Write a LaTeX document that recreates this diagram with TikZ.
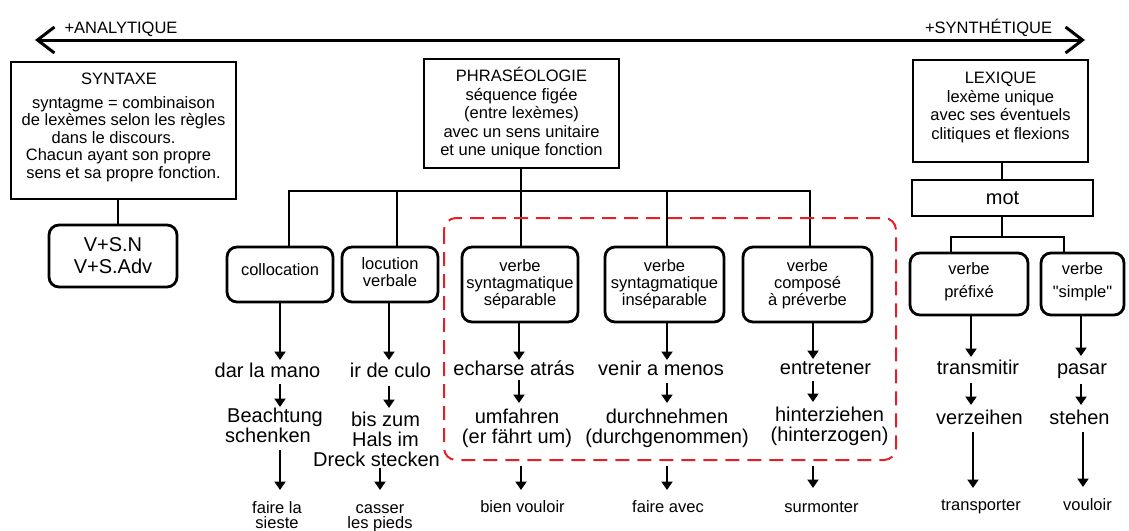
\documentclass[tikz,border=0pt]{standalone}
\usepackage{fontspec}
\setmainfont{Liberation Sans}
\newfontfamily\qfont{Liberation Sans}[Ligatures=TeXOff]
\usetikzlibrary{arrows.meta,calc}
\newcommand{\dropby}[1]{\rule[-#1]{0pt}{#1}}
\definecolor{dashred}{RGB}{230,30,40}
\begin{document}
\begin{tikzpicture}[x=1pt,y=-1pt,
  box/.style={draw, line width=2.8pt, inner sep=0pt, align=center, font=\fontsize{16.5}{17.5}\selectfont},
  rbox/.style={box, rounded corners=10pt},
  conn/.style={line width=2.8pt},
  arr/.style={line width=2.5pt, -{Triangle[length=8.5pt,width=11pt]}},
  big/.style={font=\fontsize{20}{20}\selectfont, align=center, inner sep=0pt, anchor=base},
  small/.style={font=\fontsize{16.5}{15}\selectfont, align=center, inner sep=0pt, anchor=base},
  redbox/.style={draw=dashred, line width=2pt, dash pattern=on 14pt off 8pt, rounded corners=12pt},
  toparr/.style={line width=3pt, {Straight Barb[length=17pt,width=26pt]}-{Straight Barb[length=17pt,width=26pt]}},
]
\useasboundingbox (0,0) rectangle (1129,530);

% top axis
\node[small] (lab1) at (121,33) {+ANALYTIQUE};
\node[small] (lab2) at (988.5,33) {+SYNTHÉTIQUE};
\coordinate (aL) at (35,40);
\coordinate (aR) at (1085,40);
\draw[toparr] (aL) -- (aR);

% syntaxe
\node[box, minimum width=225pt, minimum height=137pt] (syn) at (123.5,130.5)
 {SYNTAXE\kern9pt\\[6.75pt]syntagme = combinaison\\de lexèmes selon les règles\\dans le discours.\kern20pt\\Chacun ayant son propre\kern10pt\\sens et sa propre fonction.\dropby{10pt}};
\node[rbox, font=\fontsize{20}{22}\selectfont, minimum width=128pt, minimum height=62pt] (vs) at (113,256) {V+S.N\\V+S.Adv};
\coordinate (sv) at (118,0);
\draw[conn] (syn.south -| sv) -- (vs.north -| sv);

% phraseologie
\node[box, font=\fontsize{16.5}{18.5}\selectfont, minimum width=195pt, minimum height=109pt] (phr) at (521.5,113.5)
 {PHRASÉOLOGIE\\séquence figée\\(entre lexèmes)\\avec un sens unitaire\\et une unique fonction};

\node[rbox, minimum width=106pt, minimum height=55pt] (col) at (280,274.5) {collocation\dropby{9pt}};
\node[rbox, font=\fontsize{16.5}{17}\selectfont, minimum width=96pt, minimum height=55pt] (loc) at (390,274.5) {locution\\verbale\dropby{5pt}};
\node[rbox, font=\fontsize{16.5}{17}\selectfont, minimum width=116pt, minimum height=75pt] (sep) at (520,284.5) {verbe\\syntagmatique\\séparable};
\node[rbox, font=\fontsize{16.5}{17}\selectfont, minimum width=119pt, minimum height=75pt] (ins) at (664.5,284.5) {verbe\\syntagmatique\\inséparable};
\node[rbox, font=\fontsize{16.5}{17}\selectfont, minimum width=129pt, minimum height=75pt] (cmp) at (807.5,284.5) {verbe\\composé\\à préverbe};

\coordinate (j) at (521,191);
\coordinate (xcol) at (289,0);
\coordinate (xloc) at (397,0);
\coordinate (xsep) at (521,0);
\coordinate (xins) at (667,0);
\coordinate (xcmp) at (810,0);
\draw[conn] (col.north -| xcol) |- (j) -| (cmp.north -| xcmp);
\draw[conn] (phr.south -| xsep) -- (sep.north -| xsep);
\draw[conn] (loc.north -| xloc) -- (j -| xloc);
\draw[conn] (ins.north -| xins) -- (j -| xins);

% lexique
\node[box, font=\fontsize{16.5}{18.5}\selectfont, minimum width=175pt, minimum height=102pt] (lex) at (1000.5,111)
 {LEXIQUE\\lexème unique\\avec ses éventuels\\clitiques et flexions\dropby{11pt}};
\node[box, font=\fontsize{20}{22}\selectfont, minimum width=181pt, minimum height=36pt] (mot) at (1002.5,198) {mot};
\coordinate (xlm) at (1002,0);
\draw[conn] (lex.south -| xlm) -- (mot.north -| xlm);
\node[rbox, minimum width=118pt, minimum height=62pt] (pre) at (969,284) {verbe\\[5.5pt]préfixé\dropby{7pt}};
\node[rbox, minimum width=83pt, minimum height=62pt] (sim) at (1082.5,284) {verbe\\[5.5pt]{\qfont"}simple{\qfont"}\dropby{7pt}};
\coordinate (k) at (1002,237);
\coordinate (xpre) at (951,0);
\coordinate (xsim) at (1064,0);
\draw[conn] (mot.south -| xlm) -- (k);
\draw[conn] (pre.north -| xpre) |- (k) -| (sim.north -| xsim);

% red dashed group
\draw[redbox] (444,218) rectangle (896,460);

% examples (base = last line baseline)
\node[big] (c1) at (267.5,377) {dar la mano};
\node[big] (c2) at (268,442) {\kern14pt Beachtung\\schenken};
\node[small] (c3) at (277,528) {faire la\\sieste};
\node[big] (l1) at (390.5,377) {ir de culo};
\node[big] (l2) at (376.5,466) {\kern18pt bis zum\\\kern18pt Hals im\\Dreck stecken};
\node[small] (l3) at (380,528) {casser\\les pieds};
\node[big] (s1) at (514,375) {echarse atrás};
\node[big] (s2) at (517,443) {umfahren\\(er fährt um)};
\node[small] (s3) at (522.5,512) {bien vouloir};
\node[big] (i1) at (661,375) {venir a menos};
\node[big] (i2) at (667,443) {durchnehmen\\(durchgenommen)};
\node[small] (i3) at (668,512) {faire avec};
\node[big] (m1) at (825.5,374) {entretener};
\node[big] (m2) at (829.5,441) {hinterziehen\\(hinterzogen)};
\node[small] (m3) at (821.5,512) {surmonter};
\node[big] (p1) at (978,374) {transmitir};
\node[big] (p2) at (979.5,424) {verzeihen};
\node[small] (p3) at (981,510) {transporter};
\node[big] (q1) at (1082,374) {pasar};
\node[big] (q2) at (1079.5,424) {stehen};
\node[small] (q3) at (1087.5,510) {vouloir};

% arrow columns
\coordinate (ac) at (280,0);
\coordinate (al) at (389,0);
\coordinate (alb) at (380,0);
\coordinate (as) at (519,0);
\coordinate (asb) at (521,0);
\coordinate (ai) at (667,0);
\coordinate (am) at (813,0);
\coordinate (ap) at (971,0);
\coordinate (apb) at (973,0);
\coordinate (aq) at (1081,0);
\coordinate (aqb) at (1083,0);

\draw[arr] (col.south -| ac) -- ($(c1.base -| ac)+(0,-17)$);
\draw[arr] ($(c1.base -| ac)+(0,7)$) -- ($(c2.base -| ac)+(0,-35)$);
\draw[arr] ($(c2.base -| ac)+(0,8)$) -- ($(c3.base -| ac)+(0,-38)$);

\draw[arr] (loc.south -| al) -- ($(l1.base -| al)+(0,-17)$);
\draw[arr] ($(l1.base -| al)+(0,9)$) -- ($(l2.base -| al)+(0,-58)$);
\draw[arr] ($(l2.base -| alb)+(0,2)$) -- ($(l3.base -| alb)+(0,-38)$);

\draw[arr] (sep.south -| as) -- ($(s1.base -| as)+(0,-15)$);
\draw[arr] ($(s1.base -| as)+(0,5)$) -- ($(s2.base -| as)+(0,-40)$);
\draw[arr] ($(s2.base -| asb)+(0,23)$) -- ($(s3.base -| asb)+(0,-22)$);

\draw[arr] (ins.south -| ai) -- ($(i1.base -| ai)+(0,-15)$);
\draw[arr] ($(i1.base -| ai)+(0,8)$) -- ($(i2.base -| ai)+(0,-40)$);
\draw[arr] ($(i2.base -| ai)+(0,23)$) -- ($(i3.base -| ai)+(0,-22)$);

\draw[arr] (cmp.south -| am) -- ($(m1.base -| am)+(0,-15)$);
\draw[arr] ($(m1.base -| am)+(0,7)$) -- ($(m2.base -| am)+(0,-39)$);
\draw[arr] ($(m2.base -| am)+(0,25)$) -- ($(m3.base -| am)+(0,-24)$);

\draw[arr] (pre.south -| ap) -- ($(p1.base -| ap)+(0,-17)$);
\draw[arr] ($(p1.base -| ap)+(0,9)$) -- ($(p2.base -| ap)+(0,-19)$);
\draw[arr] ($(p2.base -| apb)+(0,8)$) -- ($(p3.base -| apb)+(0,-22)$);

\draw[arr] (sim.south -| aq) -- ($(q1.base -| aq)+(0,-18)$);
\draw[arr] ($(q1.base -| aq)+(0,10)$) -- ($(q2.base -| aq)+(0,-19)$);
\draw[arr] ($(q2.base -| aqb)+(0,8)$) -- ($(q3.base -| aqb)+(0,-23)$);
\end{tikzpicture}
\end{document}
